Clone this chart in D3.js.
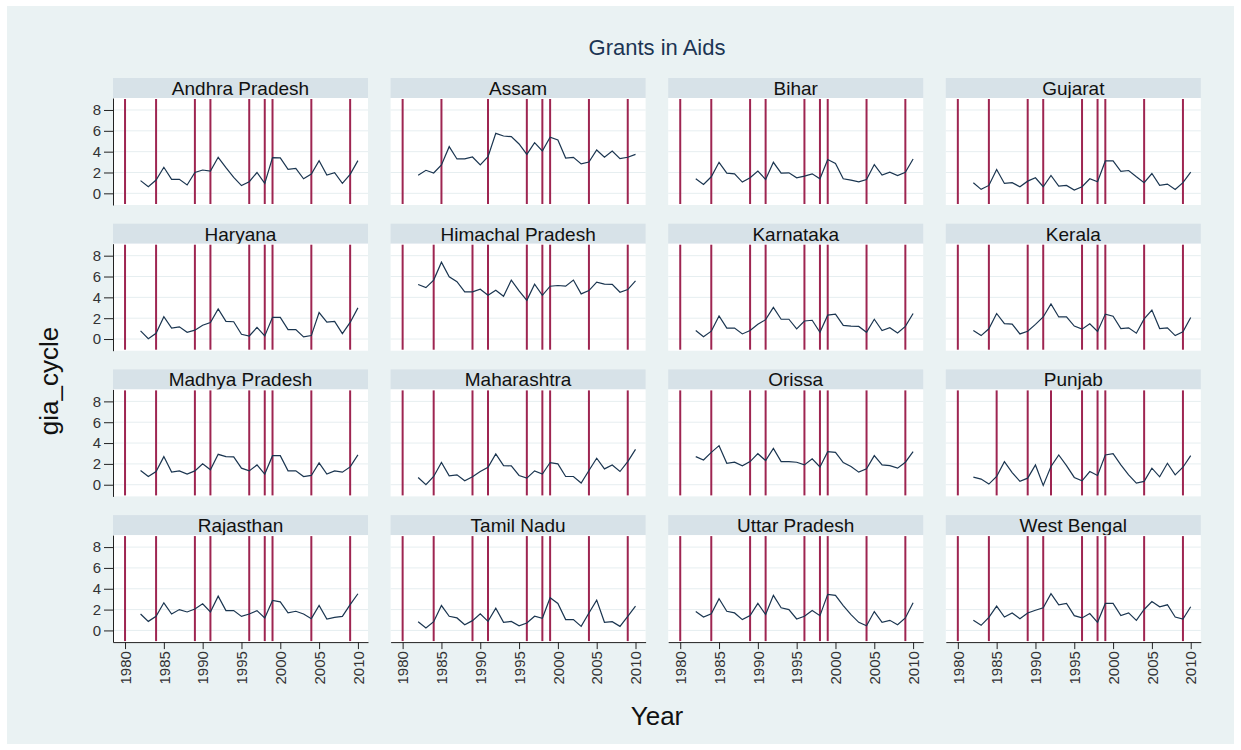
<!DOCTYPE html>
<html lang="en">
<head>
<meta charset="utf-8">
<title>Grants in Aids</title>
<script src="https://cdn.jsdelivr.net/npm/d3@7"></script>
<style>
body { margin: 0; background: #fff; }
svg { display: block; font-family: "Liberation Sans", Arial, sans-serif; }
.grid line { stroke: #e6eef0; stroke-width: 1; }
.vline { stroke: #9e2551; stroke-width: 2; }
.series { fill: none; stroke: #1a3550; stroke-width: 1.2; }
.axis path, .axis line { stroke: #222; }
.axis text { fill: #333; font-size: 15px; font-family: "Liberation Sans", Arial, sans-serif; }
</style>
</head>
<body>
<script>
// data
var years = [1982,1983,1984,1985,1986,1987,1988,1989,1990,1991,1992,1993,1994,1995,1996,
             1997,1998,1999,2000,2001,2002,2003,2004,2005,2006,2007,2008,2009,2010];
var xTicks = [1980,1985,1990,1995,2000,2005,2010];
var yTicks = [0,2,4,6,8];

var states = ["Andhra Pradesh","Assam","Bihar","Gujarat",
              "Haryana","Himachal Pradesh","Karnataka","Kerala",
              "Madhya Pradesh","Maharashtra","Orissa","Punjab",
              "Rajasthan","Tamil Nadu","Uttar Pradesh","West Bengal"];

var andhraPradesh = [1.22,0.64,1.28,2.5,1.34,1.34,0.8,2.0,2.24,2.14,3.46,2.46,1.54,0.74,1.12,2.0,0.96,3.42,3.4,2.3,2.4,1.4,1.86,3.14,1.76,1.98,0.96,1.82,3.14];
var assam = [1.73,2.21,1.95,2.72,4.48,3.3,3.3,3.49,2.72,3.52,5.76,5.5,5.44,4.74,3.74,4.86,4.06,5.38,5.12,3.39,3.46,2.82,3.0,4.16,3.46,4.06,3.33,3.46,3.74];
var bihar = [1.4,0.86,1.59,2.98,1.94,1.87,1.08,1.49,2.13,1.33,2.98,1.94,1.97,1.49,1.65,1.87,1.4,3.24,2.86,1.4,1.27,1.11,1.33,2.76,1.75,2.03,1.71,2.03,3.3];
var gujarat = [1.02,0.38,0.76,2.29,0.95,1.02,0.63,1.17,1.49,0.63,1.71,0.7,0.76,0.32,0.63,1.4,1.11,3.11,3.11,2.1,2.19,1.59,1.02,1.9,0.76,0.89,0.38,1.02,2.03];
var haryana = [0.78,0.03,0.55,2.15,1.04,1.17,0.65,0.85,1.33,1.59,2.89,1.69,1.66,0.46,0.29,1.11,0.29,2.08,2.08,0.91,0.91,0.2,0.33,2.54,1.63,1.69,0.52,1.59,2.99];
var himachalPradesh = [5.24,4.94,5.66,7.38,5.98,5.5,4.52,4.52,4.78,4.2,4.68,4.1,5.66,4.62,3.71,5.27,4.2,5.07,5.14,5.07,5.66,4.33,4.65,5.46,5.27,5.24,4.49,4.75,5.59];
var karnataka = [0.82,0.23,0.75,2.22,1.05,1.05,0.49,0.82,1.41,1.86,3.04,1.9,1.9,0.98,1.73,1.8,0.65,2.29,2.39,1.31,1.24,1.21,0.65,1.9,0.82,1.08,0.59,1.21,2.45];
var kerala = [0.82,0.33,0.98,2.45,1.47,1.44,0.49,0.75,1.41,2.12,3.37,2.12,2.12,1.24,0.95,1.47,0.72,2.39,2.19,1.01,1.08,0.56,1.93,2.78,1.01,1.08,0.33,0.69,2.06];
var madhyaPradesh = [1.37,0.79,1.27,2.7,1.21,1.33,1.02,1.33,2.0,1.43,2.92,2.7,2.67,1.59,1.33,1.9,1.02,2.79,2.79,1.33,1.33,0.79,0.89,2.1,1.02,1.33,1.21,1.71,2.86];
var maharashtra = [0.7,0.0,0.79,2.13,0.86,0.95,0.38,0.76,1.27,1.68,2.95,1.84,1.81,0.89,0.63,1.33,1.02,2.13,2.0,0.79,0.79,0.16,1.37,2.54,1.52,1.9,1.27,2.22,3.4];
var orissa = [2.7,2.38,3.11,3.75,2.06,2.16,1.81,2.22,2.98,2.32,3.49,2.22,2.22,2.16,1.9,2.48,1.71,3.17,3.11,2.13,1.75,1.21,1.52,2.79,1.9,1.84,1.59,2.16,3.17];
var punjab = [0.73,0.54,0.06,0.79,2.22,1.17,0.32,0.63,1.9,-0.06,1.75,2.86,1.84,0.7,0.38,1.27,0.89,2.86,2.98,1.9,0.95,0.16,0.32,1.59,0.76,2.06,0.95,1.68,2.79];
var rajasthan = [1.58,0.87,1.35,2.65,1.58,2.0,1.77,2.06,2.55,1.77,3.29,1.9,1.9,1.35,1.58,1.9,1.19,2.87,2.74,1.68,1.84,1.58,1.13,2.39,1.1,1.26,1.35,2.48,3.52];
var tamilNadu = [0.84,0.23,0.84,2.39,1.36,1.2,0.55,0.94,1.59,0.87,2.14,0.78,0.87,0.45,0.71,1.36,1.17,3.14,2.59,1.04,1.04,0.39,1.68,2.91,0.78,0.84,0.39,1.36,2.33];
var uttarPradesh = [1.81,1.29,1.59,3.04,1.84,1.68,1.04,1.42,2.59,1.52,3.37,2.17,2.0,1.1,1.36,1.91,1.42,3.46,3.37,2.39,1.52,0.78,0.45,1.81,0.78,0.97,0.55,1.2,2.65];
var westBengal = [0.97,0.49,1.26,2.33,1.29,1.68,1.13,1.68,1.94,2.17,3.53,2.46,2.59,1.42,1.2,1.62,0.78,2.59,2.59,1.42,1.68,0.97,2.01,2.78,2.27,2.46,1.29,1.1,2.27];

// election years marked with vertical lines
var electionYears = [1980,1984,1989,1991,1996,1998,1999,2004,2009];
var assamElections = [1980,1985,1991,1996,1998,1999,2004,2009];
var punjabElections = [1980,1985,1989,1992,1996,1998,1999,2004,2009];

var seriesValues = [andhraPradesh, assam, bihar, gujarat, haryana, himachalPradesh, karnataka, kerala,
                    madhyaPradesh, maharashtra, orissa, punjab, rajasthan, tamilNadu, uttarPradesh, westBengal];
var seriesElections = states.map(function(s) {
    if (s === "Assam") return assamElections;
    if (s === "Punjab") return punjabElections;
    return electionYears;
});

//画布
var width = 1241, height = 750;
var svg = d3.select("body").append("svg")
        .attr("width", width)
        .attr("height", height);

svg.append("rect")
        .attr("x", 7).attr("y", 6)
        .attr("width", 1227).attr("height", 738)
        .attr("fill", "#eaf2f3");

// panel geometry
var left0 = 113, top0 = 78, colStep = 277.6, rowStep = 145.7;
var pw = 255, stripH = 20, ph = 107;

var x = d3.scaleLinear().domain([1978.45, 2011.3]).range([0, pw]);
var y = d3.scaleLinear().domain([-1.12, 9.15]).range([ph, 0]);

var line = d3.line()
        .x(function(d) { return x(d.year); })
        .y(function(d) { return y(d.value); });

states.forEach(function(name, i) {
    var col = i % 4, row = Math.floor(i / 4);
    var g = svg.append("g")
            .attr("transform", "translate(" + (left0 + col * colStep) + "," + (top0 + row * rowStep) + ")");

    // strip with state name
    g.append("rect")
            .attr("width", pw).attr("height", stripH)
            .attr("fill", "#d7e2e8");
    g.append("text")
            .attr("x", pw / 2).attr("y", stripH / 2)
            .attr("dy", "0.36em")
            .attr("text-anchor", "middle")
            .attr("font-size", "19px")
            .attr("fill", "#111")
            .text(name);

    var p = g.append("g").attr("transform", "translate(0," + stripH + ")");
    p.append("rect")
            .attr("width", pw).attr("height", ph)
            .attr("fill", "#fff");

    p.append("g").attr("class", "grid")
            .selectAll("line")
            .data(yTicks)
            .enter().append("line")
            .attr("x1", 0).attr("x2", pw)
            .attr("y1", function(d) { return y(d); })
            .attr("y2", function(d) { return y(d); });

    p.selectAll(".vline")
            .data(seriesElections[i])
            .enter().append("line")
            .attr("class", "vline")
            .attr("x1", function(d) { return x(d); })
            .attr("x2", function(d) { return x(d); })
            .attr("y1", 1).attr("y2", ph - 1);

    var pts = years.map(function(yr, k) { return {year: yr, value: seriesValues[i][k]}; });
    p.append("path")
            .datum(pts)
            .attr("class", "series")
            .attr("d", line);

    if (col === 0) {
        p.append("g").attr("class", "axis")
                .call(d3.axisLeft(y).tickValues(yTicks).tickSize(9).tickPadding(3).tickSizeOuter(0));
    }
    if (row === 3) {
        var ax = p.append("g").attr("class", "axis")
                .attr("transform", "translate(0," + ph + ")")
                .call(d3.axisBottom(x).tickValues(xTicks).tickFormat(d3.format("d")).tickSize(7).tickSizeOuter(0));
        ax.selectAll("text")
                .attr("transform", "rotate(-90)")
                .attr("text-anchor", "end")
                .attr("x", -9)
                .attr("y", 0)
                .attr("dy", "0.35em");
    }
});

// titles
svg.append("text")
        .attr("x", 657).attr("y", 55)
        .attr("text-anchor", "middle")
        .attr("font-size", "22px")
        .attr("fill", "#1c3553")
        .text("Grants in Aids");

svg.append("text")
        .attr("x", 657).attr("y", 725)
        .attr("text-anchor", "middle")
        .attr("font-size", "26px")
        .attr("fill", "#111")
        .text("Year");

svg.append("text")
        .attr("transform", "translate(58,381) rotate(-90)")
        .attr("text-anchor", "middle")
        .attr("font-size", "26px")
        .attr("fill", "#111")
        .text("gia_cycle");
</script>
</body>
</html>
